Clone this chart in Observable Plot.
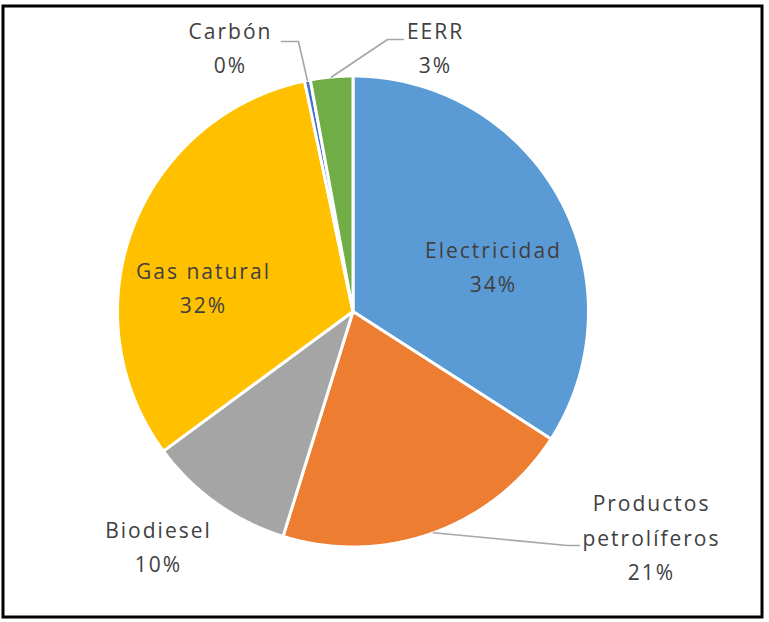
<!DOCTYPE html>
<html>
<head>
<meta charset="utf-8">
<script src="https://cdn.jsdelivr.net/npm/d3@7"></script>
<script src="https://cdn.jsdelivr.net/npm/@observablehq/plot@0.6"></script>
<style>
  html, body { margin: 0; padding: 0; background: #fff; }
  #chart svg { display: block; }
</style>
</head>
<body>
<div id="chart"></div>
<script>
// ---- data ----
const categories = ["Electricidad", "Productos petrolíferos", "Biodiesel", "Gas natural", "Carbón", "EERR"];
const values = [34.1, 20.7, 10.1, 31.8, 0.4, 2.9];
const percentLabels = ["34%", "21%", "10%", "32%", "0%", "3%"];
const labelNames = ["Electricidad", "Productos\npetrolíferos", "Biodiesel", "Gas natural", "Carbón", "EERR"];
const colors = ["#5B9BD5", "#ED7D31", "#A5A5A5", "#FFC000", "#4472C4", "#70AD47"];

// ---- layout ----
const W = 769, H = 622;
const cx = 352.5, cy = 311, R = 235.5;
// label block centers (pixels)
const labelPos = {
  "Electricidad": [493, 263.5],
  "Productos petrolíferos": [651, 534],
  "Biodiesel": [158, 543.5],
  "Gas natural": [203, 284.5],
  "Carbón": [230, 44.5],
  "EERR": [435, 44.5]
};
// leader line bend/end points (pixels)
const leaderPts = {
  "Productos petrolíferos": [[567, 545], [579, 545]],
  "Carbón": [[298, 41], [281, 41]],
  "EERR": [[387, 39], [403, 39]]
};

const ux = px => (px - cx) / R;
const uy = py => (cy - py) / R;

const total = d3.sum(values);
let acc = 0;
const slices = categories.map((c, i) => {
  const a0 = acc / total * 2 * Math.PI;
  acc += values[i];
  const a1 = acc / total * 2 * Math.PI;
  return {category: c, value: values[i], a0, a1, mid: (a0 + a1) / 2, color: colors[i], i};
});

function slicePolygon(s) {
  const pts = [{x: 0, y: 0}];
  const n = Math.max(2, Math.ceil((s.a1 - s.a0) / (Math.PI / 360)));
  for (let k = 0; k <= n; k++) {
    const a = s.a0 + (s.a1 - s.a0) * k / n;
    pts.push({x: Math.sin(a), y: Math.cos(a)});
  }
  pts.push({x: 0, y: 0});
  return pts;
}

const marks = [];
slices.forEach(s => {
  marks.push(Plot.line(slicePolygon(s), {
    x: "x", y: "y", fill: s.color, stroke: "white", strokeWidth: 3, strokeLinejoin: "round"
  }));
});

// leader lines
slices.forEach(s => {
  const lp = leaderPts[s.category];
  if (!lp) return;
  const pts = [{x: Math.sin(s.mid), y: Math.cos(s.mid)}].concat(lp.map(p => ({x: ux(p[0]), y: uy(p[1])})));
  marks.push(Plot.line(pts, {x: "x", y: "y", stroke: "#A6A6A6", strokeWidth: 1.6}));
});

// labels
const labelData = slices.map(s => ({
  text: labelNames[s.i] + "\n" + percentLabels[s.i],
  x: ux(labelPos[s.category][0]),
  y: uy(labelPos[s.category][1])
}));
marks.push(Plot.text(labelData, {
  x: "x", y: "y", text: "text",
  fontSize: 21, lineHeight: 1.64, fill: "#404040",
  textAnchor: "middle", lineAnchor: "middle"
}));

// outer frame
marks.push(Plot.frame({stroke: "#000", strokeWidth: 3, insetLeft: 2.5, insetTop: 5.5, insetRight: 7.5, insetBottom: 5.5}));

const chart = Plot.plot({
  width: W, height: H,
  margin: 0,
  x: {type: "linear", domain: [ux(0), ux(W)], range: [0, W], axis: null},
  y: {type: "linear", domain: [uy(H), uy(0)], range: [H, 0], axis: null},
  style: {fontFamily: "'Open Sans', sans-serif", letterSpacing: "2px", background: "white"},
  marks
});
document.getElementById("chart").appendChild(chart);
</script>
</body>
</html>
